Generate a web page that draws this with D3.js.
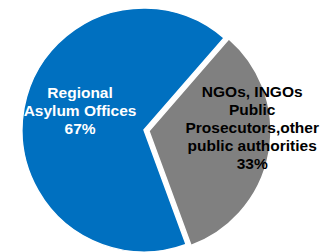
<!DOCTYPE html>
<html>
<head>
<meta charset="utf-8">
<script src="https://cdn.jsdelivr.net/npm/d3@7"></script>
<style>
  html, body { margin: 0; padding: 0; background: #fff; }
  svg { display: block; }
</style>
</head>
<body>
<div id="chart"></div>
<script>
// data
const labels = [
  ['NGOs, INGOs', 'Public', 'Prosecutors,other', 'public authorities'],
  ['Regional', 'Asylum Offices']
]
const values = [33, 67]
const colors = ['#808080', '#0070c0']
const textColors = ['#000', '#fff']

const chartWidth = 329
const chartHeight = 252
const cx = 144
const cy = 130
const radius = 122
const startDeg = 41
const explode = [5, 0] // 灰色扇形往外推
const labelRadius = [103, 65]
const labelShift = [[2, -21], [0, -7]]
const lineHeight = 18

const svg = d3
  .select('#chart')
  .append('svg')
  .attr('width', chartWidth)
  .attr('height', chartHeight)

const pie = d3
  .pie()
  .sort(null)
  .startAngle((startDeg * Math.PI) / 180)
  .endAngle((startDeg * Math.PI) / 180 + 2 * Math.PI)

const arcs = pie(values)
const total = d3.sum(values)

const arc = d3.arc().innerRadius(0).outerRadius(radius)

// 依據中間角度計算位移
function offsetOf(d, dist) {
  const mid = (d.startAngle + d.endAngle) / 2
  return [Math.sin(mid) * dist, -Math.cos(mid) * dist]
}

const slices = svg
  .selectAll('g.slice')
  .data(arcs)
  .enter()
  .append('g')
  .attr('class', 'slice')
  .attr('transform', (d, i) => {
    const o = offsetOf(d, explode[i])
    return `translate(${cx + o[0]},${cy + o[1]})`
  })

slices
  .append('path')
  .attr('d', arc)
  .attr('fill', (d, i) => colors[i])
  .attr('stroke', '#fff')
  .attr('stroke-width', 1.5)

// 標籤
slices.each(function(d, i) {
  const c = d3.arc().innerRadius(labelRadius[i]).outerRadius(labelRadius[i]).centroid(d)
  const lines = labels[i].concat([Math.round((values[i] / total) * 100) + '%'])
  const x = c[0] + labelShift[i][0]
  const y0 = c[1] + labelShift[i][1] - ((lines.length - 1) * lineHeight) / 2 + 5
  const t = d3
    .select(this)
    .append('text')
    .attr('text-anchor', 'middle')
    .attr('font-family', 'Liberation Sans, Arial, sans-serif')
    .attr('font-weight', 'bold')
    .attr('font-size', '15.5px')
    .attr('fill', textColors[i])
  lines.forEach((s, k) => {
    t.append('tspan').attr('x', x).attr('y', y0 + k * lineHeight).text(s)
  })
})
</script>
</body>
</html>
